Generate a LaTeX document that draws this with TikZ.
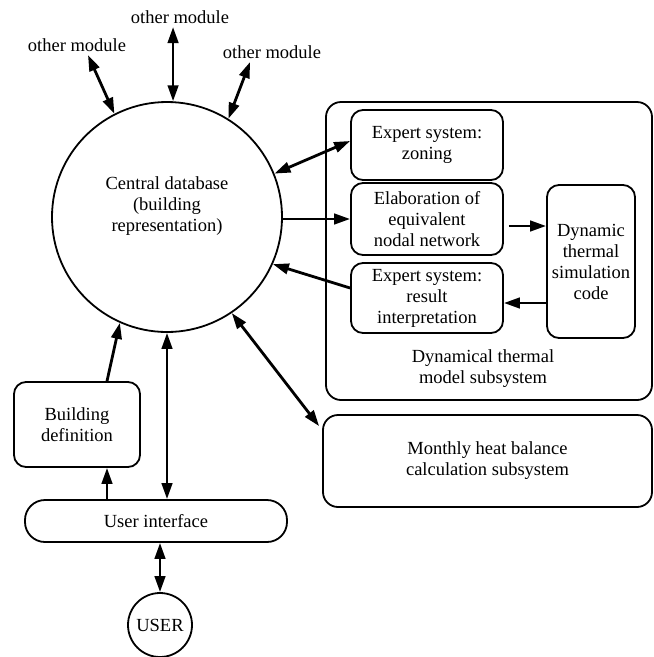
\documentclass[tikz,border=0pt]{standalone}
\usepackage{fontspec}
\setmainfont{Liberation Serif}
\usetikzlibrary{arrows.meta}
\begin{document}
\begin{tikzpicture}[x=1pt,y=-1pt,
  every node/.style={font=\fontsize{18.5}{21}\selectfont, align=center},
  box/.style={draw, line width=1.8pt, rounded corners=12pt, inner sep=0pt},
  conn/.style={line width=2.8pt, -{Triangle[length=16pt,width=10.5pt]}},
  dconn/.style={line width=2.8pt, {Triangle[length=16pt,width=10.5pt]}-{Triangle[length=16pt,width=10.5pt]}},
]
\useasboundingbox (0,0) rectangle (654,657);
% central database
\node[draw, circle, line width=1.8pt, minimum size=230pt, inner sep=0pt] (db) at (167,217) {};
\node (dbtext) at (167,206) {Central database\\(building\\representation)};
% other modules
\node (om1) at (77,45) {other module};
\node (om2) at (180,17) {other module};
\node (om3) at (272,52) {other module};
% dynamical thermal model subsystem
\node[box, rounded corners=15pt, minimum width=326pt, minimum height=298pt] (dyn) at (489,251) {};
\node (dynlbl) at (483,369) {Dynamical thermal\\model subsystem};
\node[box, minimum width=152pt, minimum height=70pt] (zone) at (427,145) {Expert system:\\zoning};
\node[box, minimum width=152pt, minimum height=72pt] (elab) at (427,219) {Elaboration of\\equivalent\\nodal network};
\node[box, minimum width=152pt, minimum height=70pt] (res) at (427,298) {Expert system:\\result\\interpretation};
\node[box, minimum width=88pt, minimum height=153pt] (dts) at (591,261.5) {Dynamic\\thermal\\simulation\\code};
% monthly
\node[box, rounded corners=15pt, minimum width=329pt, minimum height=92pt] (mon) at (487.5,461) {Monthly heat balance\\calculation subsystem};
% bottom left
\node[box, minimum width=126pt, minimum height=85pt] (bd) at (77,424.5) {Building\\definition};
\node[box, rounded corners=20pt, minimum width=262pt, minimum height=42pt] (ui) at (156,521) {User interface};
\node[draw, circle, line width=1.8pt, minimum size=64pt, inner sep=0pt] (user) at (160,625) {USER};
% connectors
\draw[dconn] ([xshift=11pt]om1.south) -- (db.117);
\draw[dconn] (om2.south -| db.87) -- (db.87);
\draw[dconn] ([xshift=-22pt]om3.south) -- (db.58);
\draw[dconn] (db.22) -- ([yshift=4pt]zone.west);
\draw[conn] (db.east |- elab.west) -- (elab.west);
\draw[conn] ([yshift=10pt]res.west) -- (db.-24);
\draw[conn] ([xshift=5pt,yshift=-7pt]elab.east) -- ([yshift=-7pt]elab.east -| dts.west);
\draw[conn] ([yshift=-5pt]res.east -| dts.west) -- ([yshift=-5pt]res.east);
\draw[dconn] (db.-56) -- ([xshift=-3pt,yshift=-12pt]mon.north west);
\draw[conn] ([xshift=30pt]bd.north) -- (db.-114);
\draw[conn] ([xshift=30pt]bd.south |- ui.north) -- ([xshift=30pt]bd.south);
\draw[dconn] (ui.north -| db.south) -- (db.south);
\draw[dconn] (ui.south -| user.north) -- (user.north);
\end{tikzpicture}
\end{document}
